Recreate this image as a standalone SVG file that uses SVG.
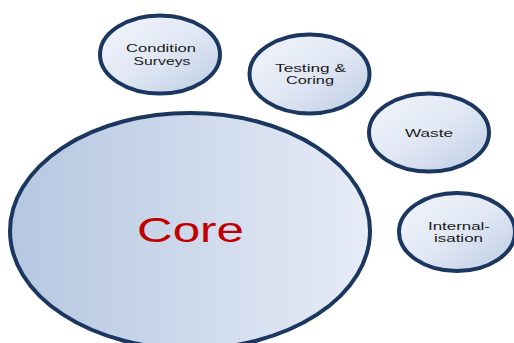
<svg xmlns="http://www.w3.org/2000/svg" width="514" height="343" viewBox="0 0 514 343">
<defs>
<linearGradient id="gSmall" x1="0" y1="0" x2="1" y2="1">
<stop offset="0" stop-color="#f2f5fb"/>
<stop offset="0.5" stop-color="#e1e8f4"/>
<stop offset="1" stop-color="#bccbe3"/>
</linearGradient>
<linearGradient id="gCore" x1="0" y1="0" x2="1" y2="0">
<stop offset="0" stop-color="#b5c7e1"/>
<stop offset="1" stop-color="#e6ecf6"/>
</linearGradient>
<style>
.node{stroke:#1b365f;stroke-width:4}
.small{fill:url(#gSmall)}
.lbl{font-family:"Liberation Sans",Arial,sans-serif;font-size:11.5px;fill:#1a1a1a;text-anchor:middle}
.core{font-family:"Liberation Sans",Arial,sans-serif;font-size:35px;fill:#c00000;text-anchor:middle}
</style>
</defs>
<rect width="514" height="343" fill="#ffffff"/>
<g id="connectors"/>
<g id="core">
<ellipse class="node" cx="190" cy="231" rx="180" ry="118" fill="url(#gCore)"/>
<text class="core" x="190.5" y="242" textLength="107" lengthAdjust="spacingAndGlyphs">Core</text>
</g>
<g id="condition-surveys">
<ellipse class="node small" cx="160" cy="54.5" rx="60" ry="39"/>
<text class="lbl" x="161" y="52" textLength="70" lengthAdjust="spacingAndGlyphs">Condition</text>
<text class="lbl" x="162" y="64.5" textLength="57" lengthAdjust="spacingAndGlyphs">Surveys</text>
</g>
<g id="testing-coring">
<ellipse class="node small" cx="309.5" cy="74" rx="60" ry="39.5"/>
<text class="lbl" x="310.5" y="72" textLength="71" lengthAdjust="spacingAndGlyphs">Testing &amp;</text>
<text class="lbl" x="310" y="84" textLength="48" lengthAdjust="spacingAndGlyphs">Coring</text>
</g>
<g id="waste">
<ellipse class="node small" cx="429" cy="132.5" rx="60" ry="39"/>
<text class="lbl" x="429" y="136.5" textLength="48" lengthAdjust="spacingAndGlyphs">Waste</text>
</g>
<g id="internalisation">
<ellipse class="node small" cx="457" cy="232" rx="58" ry="39"/>
<text class="lbl" x="459" y="229.5" textLength="62" lengthAdjust="spacingAndGlyphs">Internal-</text>
<text class="lbl" x="458.5" y="242" textLength="49" lengthAdjust="spacingAndGlyphs">isation</text>
</g>
</svg>
